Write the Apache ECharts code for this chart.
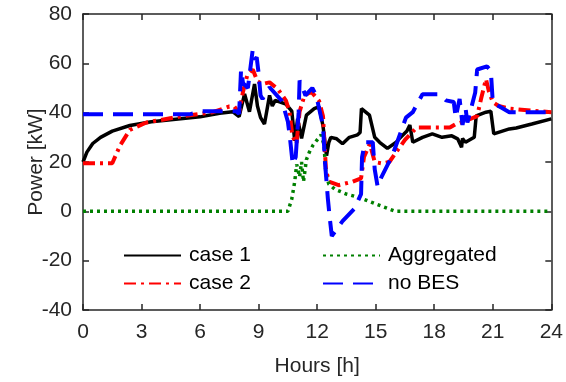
<!DOCTYPE html>
<html>
<head>
<meta charset="utf-8">
<script src="https://cdn.jsdelivr.net/npm/echarts@6/dist/echarts.min.js"></script>
<style>
  html, body { margin: 0; padding: 0; background: #fff; }
  #main { width: 566px; height: 382px; }
</style>
</head>
<body>
<div id="main"></div>
<script>
// power profiles over one day
var case1Hours = [0, 0.2, 0.5, 0.9, 1.5, 2.4, 3.5, 5, 6, 7, 7.67, 8.0, 8.28, 8.53, 8.79, 8.94, 9.1, 9.3, 9.56, 9.7, 9.85, 10.4, 10.7, 10.85, 11.0, 11.2, 11.45, 11.85, 12.1, 12.3, 12.48, 12.6, 12.7, 13.0, 13.3, 13.65, 14.07, 14.2, 14.27, 14.68, 14.95, 15.2, 15.6, 16.05, 16.2, 16.6, 16.75, 16.9, 17.4, 17.9, 18.4, 18.9, 19.2, 19.4, 19.45, 19.6, 20.05, 20.15, 20.65, 20.9, 21.05, 21.85, 22.2, 23, 24];
var case1Power = [20, 24, 27.5, 30, 32.5, 34.8, 36.3, 37.5, 38.3, 39.8, 40.4, 38.4, 47.6, 40.4, 51.6, 42.7, 38, 35.4, 47, 42.7, 45, 43.5, 40.6, 28.6, 37.5, 29.6, 39, 41.6, 42.4, 34.6, 22.6, 28, 30, 29.4, 27.4, 30, 31, 32, 41.6, 39, 30, 28, 25.5, 28, 29.4, 32.6, 35, 28, 30, 31.4, 30, 30.6, 29.4, 26, 29.5, 28, 30, 38.7, 40.2, 40.6, 31.4, 33.4, 33.8, 35.4, 37.5];

var case2Hours = [0, 1.5, 1.9, 2.4, 3.25, 4.95, 6.65, 7.5, 7.76, 8.0, 8.2, 8.43, 8.7, 8.94, 9.2, 9.56, 9.97, 10.4, 10.58, 10.73, 10.94, 11.1, 11.35, 11.7, 12.1, 12.3, 12.45, 12.6, 13.1, 13.8, 14.25, 14.4, 14.7, 14.95, 15.35, 15.7, 16.05, 16.5, 17.1, 17.9, 18.8, 19.1, 19.6, 20.2, 20.4, 20.65, 20.8, 21.0, 21.3, 21.85, 23, 24];
var case2Power = [19.5, 19.5, 26.7, 33, 36, 38.4, 40.2, 42.5, 42.4, 40, 48.5, 55.5, 57.5, 52.7, 51.6, 52.3, 49.7, 44.9, 40.4, 30.6, 27.4, 40.4, 47, 48.5, 44.7, 38.5, 17, 12, 10.6, 12, 13.4, 22, 27.4, 20, 19.4, 20, 24, 29, 34, 34, 34, 35.4, 36.6, 38.6, 45.6, 53.6, 48.7, 44.3, 42.7, 41.6, 40.8, 40.2];

var aggHours = [0, 10.5, 10.7, 10.85, 10.95, 11.1, 11.2, 11.3, 11.45, 11.6, 11.8, 12.0, 12.2, 12.35, 12.45, 12.6, 12.9, 13.5, 14.2, 15.0, 15.5, 16.0, 24];
var aggPower = [0, 0, 5, 12, 19, 14, 20, 12, 21, 24, 27, 29, 31, 27, 15, 11, 9, 7, 5.5, 3, 1.5, 0, 0];

var noBesHours = [0, 5.5, 6.1, 7.85, 8.0, 8.1, 8.2, 8.45, 8.7, 8.8, 8.9, 9.0, 9.1, 9.2, 9.56, 10.2, 10.5, 10.6, 10.75, 10.9, 11.05, 11.1, 11.4, 11.75, 11.95, 12.3, 12.4, 12.55, 12.65, 12.75, 13.3, 13.9, 14.25, 14.3, 14.45, 14.85, 14.95, 15.1, 15.3, 15.85, 16.1, 16.55, 16.9, 17.4, 18.25, 18.6, 19.0, 19.1, 19.3, 19.45, 19.6, 19.7, 20.1, 20.2, 20.7, 20.9, 21.0, 21.3, 21.85, 23, 24];
var noBesPower = [39.4, 39.4, 40.6, 40.6, 39.5, 57.5, 52, 50, 65.7, 61.5, 62.5, 56, 46.9, 45.6, 50.3, 44.7, 36.3, 30.2, 19, 22, 40, 53, 47, 50, 47, 34.6, 20, 5, -3, -10, -4, 1, 7, 22, 28, 28, 17, 10, 14, 22.6, 28, 38, 40.2, 47.5, 47.5, 45, 44.3, 38, 45.6, 35, 42, 36, 48.2, 57.5, 58.8, 57, 44.3, 42.7, 40.2, 40.2, 40.2];

function pairs(xs, ys) {
  return xs.map(function (x, i) { return [x, ys[i]]; });
}

var myChart = echarts.init(document.getElementById('main'));

var font = 'Liberation Sans, Arial, Helvetica, sans-serif';
var ink = '#262626';

var legendText = { fontSize: 21, color: '#000', fontFamily: font, padding: [0, 0, 0, 3] };

function tick() {
  return { show: true, inside: true, length: 6, lineStyle: { color: ink, width: 1.5 } };
}
// axis 2 of each dimension never crosses zero, so the box edges stay at the grid sides
function line() {
  return { show: true, onZero: true, onZeroAxisIndex: 2, lineStyle: { color: ink, width: 1.5 } };
}

var option = {
  animation: false,
  textStyle: { fontFamily: font },
  grid: { left: 83, right: 14, top: 14, bottom: 69 },
  legend: [
    {
      left: 123, top: 245, orient: 'vertical', padding: 0,
      itemWidth: 57, itemHeight: 14, itemGap: 7,
      data: ['case 1', 'case 2'],
      itemStyle: { opacity: 0 },
      textStyle: legendText
    },
    {
      left: 322, top: 245, orient: 'vertical', padding: 0,
      itemWidth: 57, itemHeight: 14, itemGap: 7,
      data: ['Aggregated', 'no BES'],
      itemStyle: { opacity: 0 },
      textStyle: legendText
    }
  ],
  xAxis: [
    {
      type: 'value', min: 0, max: 24, interval: 3, position: 'bottom',
      name: 'Hours [h]', nameLocation: 'middle', nameGap: 46, nameMoveOverlap: false,
      nameTextStyle: { fontSize: 21, color: ink, fontFamily: font },
      axisLine: line(),
      axisTick: tick(),
      axisLabel: { fontSize: 21, color: ink, margin: 12, fontFamily: font },
      splitLine: { show: false }
    },
    {
      type: 'value', min: 0, max: 24, interval: 3, position: 'top',
      axisLine: line(),
      axisTick: tick(),
      axisLabel: { show: false },
      splitLine: { show: false }
    },
    { type: 'value', min: 1, max: 2, show: false }
  ],
  yAxis: [
    {
      type: 'value', min: -40, max: 80, interval: 20, position: 'left',
      name: 'Power [kW]', nameLocation: 'middle', nameGap: 36, nameMoveOverlap: false,
      nameTextStyle: { fontSize: 21, color: ink, fontFamily: font },
      axisLine: line(),
      axisTick: tick(),
      axisLabel: { fontSize: 21, color: ink, margin: 11, fontFamily: font },
      splitLine: { show: false }
    },
    {
      type: 'value', min: -40, max: 80, interval: 20, position: 'right',
      axisLine: line(),
      axisTick: tick(),
      axisLabel: { show: false },
      splitLine: { show: false }
    },
    { type: 'value', min: 1, max: 2, show: false }
  ],
  series: [
    {
      name: 'case 1', type: 'line', symbol: 'none',
      data: pairs(case1Hours, case1Power),
      lineStyle: { color: '#000000', width: 3.5 },
      itemStyle: { color: '#000000' }
    },
    {
      name: 'case 2', type: 'line', symbol: 'none',
      data: pairs(case2Hours, case2Power),
      lineStyle: { color: '#ff0000', width: 4, type: [12, 5, 3, 5] },
      itemStyle: { color: '#ff0000' }
    },
    {
      name: 'Aggregated', type: 'line', symbol: 'none',
      data: pairs(aggHours, aggPower),
      lineStyle: { color: '#008000', width: 3.5, type: [3, 4] },
      itemStyle: { color: '#008000' }
    },
    {
      name: 'no BES', type: 'line', symbol: 'none',
      data: pairs(noBesHours, noBesPower),
      lineStyle: { color: '#0000ff', width: 4, type: [20, 10] },
      itemStyle: { color: '#0000ff' }
    }
  ]
};

option && myChart.setOption(option);
</script>
</body>
</html>
